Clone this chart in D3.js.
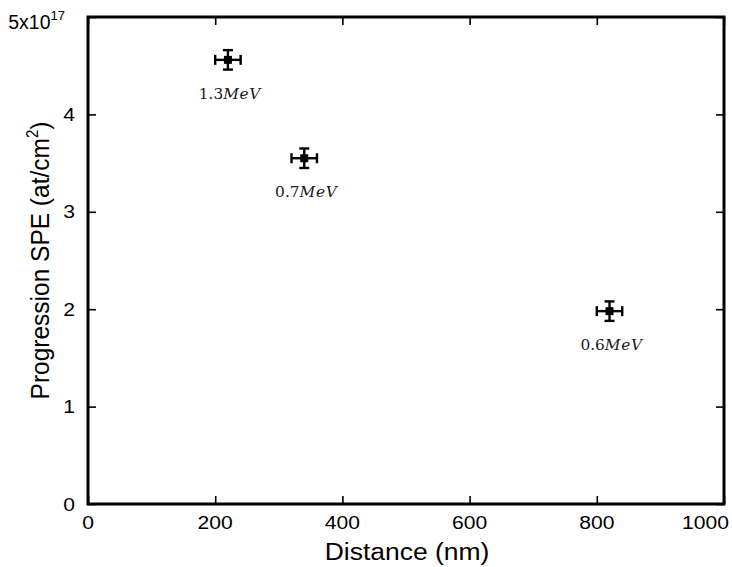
<!DOCTYPE html>
<html>
<head>
<meta charset="utf-8">
<script src="https://cdn.jsdelivr.net/npm/d3@7"></script>
<style>
  html, body { margin: 0; padding: 0; background: #fff; }
  svg { display: block; }
</style>
</head>
<body>
<svg id="chart" width="732" height="567"></svg>
<script>
// Measured SPE progression vs. distance, one point per implant energy
const energies   = ["1.3", "0.7", "0.6"];        // MeV
const distances  = [220, 340, 820];              // nm
const progression = [4.56, 3.55, 1.98];          // x10^17 at/cm^2
const distErr    = [20, 20, 20];                 // nm
const progErr    = [0.1, 0.1, 0.1];              // x10^17 at/cm^2

const xTicks = [0, 200, 400, 600, 800, 1000];
const yTicks = [0, 1, 2, 3, 4, 5];
const yTickLabels = ["0", "1", "2", "3", "4", "5x10"];
const yExponent = "17";

const W = 732, H = 567;
const margin = { left: 88, right: 8, top: 17, bottom: 63 };

const svg = d3.select("#chart");

const x = d3.scaleLinear().domain([0, 1000]).range([margin.left, W - margin.right]);
const y = d3.scaleLinear().domain([0, 5]).range([H - margin.bottom, margin.top]);

const FONT = "Liberation Sans, Arial, Helvetica, sans-serif";
const SX = 1.14;     // horizontal stretch of tick text
const SXT = 1.08;    // horizontal stretch of axis titles

// inward ticks on all four sides
function styleAxis(g) {
  g.select(".domain").remove();
  g.selectAll(".tick line").attr("stroke", "#000").attr("stroke-width", 1.6);
  g.selectAll(".tick text").remove();
}
svg.append("g").attr("transform", `translate(0,${y(0)})`)
  .call(d3.axisBottom(x).tickValues(xTicks).tickSize(-8).tickFormat("")).call(styleAxis);
svg.append("g").attr("transform", `translate(0,${y(5)})`)
  .call(d3.axisTop(x).tickValues(xTicks).tickSize(-8).tickFormat("")).call(styleAxis);
svg.append("g").attr("transform", `translate(${x(0)},0)`)
  .call(d3.axisLeft(y).tickValues(yTicks).tickSize(-8).tickFormat("")).call(styleAxis);
svg.append("g").attr("transform", `translate(${x(1000)},0)`)
  .call(d3.axisRight(y).tickValues(yTicks).tickSize(-8).tickFormat("")).call(styleAxis);

// frame
svg.append("rect")
  .attr("x", x(0)).attr("y", y(5))
  .attr("width", x(1000) - x(0)).attr("height", y(0) - y(5))
  .attr("fill", "none").attr("stroke", "#000").attr("stroke-width", 3);

// x tick labels
const xl = svg.append("g").attr("font-family", FONT).attr("font-size", 18.5).attr("fill", "#000");
xTicks.forEach(v => {
  const g = xl.append("g").attr("transform", `translate(${x(v)},${y(0) + 25}) scale(${SX},1)`);
  const t = g.append("text").attr("text-anchor", "middle").text(v);
  const w = t.node().getBBox().width * SX;
  const overflow = x(v) + w / 2 - (W - 3);
  if (overflow > 0) g.attr("transform", `translate(${x(v) - overflow},${y(0) + 25}) scale(${SX},1)`);
});

// y tick labels (top one carries the exponent)
const yl = svg.append("g").attr("font-family", FONT).attr("font-size", 18.5).attr("fill", "#000");
yTicks.forEach((v, i) => {
  const top = i === yTicks.length - 1;
  const g = yl.append("g")
    .attr("transform", top
      ? `translate(${x(0) - 23},${y(v) + 12})`
      : `translate(${x(0) - 13},${y(v) + 6.5}) scale(${SX},1)`);
  const t = g.append("text").attr("text-anchor", "end").text(yTickLabels[i]);
  if (top) {
    t.attr("font-size", 19.5);
    t.append("tspan").attr("font-size", 13).attr("dy", -9).text(yExponent);
  }
});

// axis titles
svg.append("g").attr("transform", `translate(${(x(0) + x(1000)) / 2 + 1},560) scale(${SXT},1)`)
  .append("text").attr("text-anchor", "middle")
  .attr("font-family", FONT).attr("font-size", 24.5).attr("fill", "#000")
  .text("Distance (nm)");

const yt = svg.append("g").attr("transform", `translate(49,${(y(0) + y(5)) / 2}) scale(${SXT},1) rotate(-90)`)
  .append("text").attr("text-anchor", "middle")
  .attr("font-family", FONT).attr("font-size", 24.5).attr("fill", "#000");
yt.append("tspan").text("Progression SPE (at/cm");
yt.append("tspan").attr("font-size", 15).attr("dy", -10).text("2");
yt.append("tspan").attr("dy", 10).text(")");

// data points with error bars
const pts = svg.append("g").attr("stroke", "#000").attr("stroke-width", 2.4).attr("fill", "#000");
const cap = 5;
distances.forEach((d, i) => {
  const cx = x(d), cy = y(progression[i]);
  const x0 = x(d - distErr[i]), x1 = x(d + distErr[i]);
  const y0 = y(progression[i] - progErr[i]), y1 = y(progression[i] + progErr[i]);
  const g = pts.append("g");
  g.append("line").attr("x1", x0).attr("x2", x1).attr("y1", cy).attr("y2", cy);
  g.append("line").attr("x1", x0).attr("x2", x0).attr("y1", cy - cap).attr("y2", cy + cap);
  g.append("line").attr("x1", x1).attr("x2", x1).attr("y1", cy - cap).attr("y2", cy + cap);
  g.append("line").attr("x1", cx).attr("x2", cx).attr("y1", y0).attr("y2", y1);
  g.append("line").attr("x1", cx - cap).attr("x2", cx + cap).attr("y1", y0).attr("y2", y0);
  g.append("line").attr("x1", cx - cap).attr("x2", cx + cap).attr("y1", y1).attr("y2", y1);
  g.append("rect").attr("x", cx - 4).attr("y", cy - 4).attr("width", 8).attr("height", 8)
    .attr("stroke", "none");

  // energy label below the point
  const lt = svg.append("g").attr("transform", `translate(${cx + 2},${cy + 39}) scale(1.06,1)`)
    .append("text").attr("text-anchor", "middle")
    .attr("font-family", "DejaVu Serif, Liberation Serif, serif").attr("font-size", 14.5)
    .attr("fill", "#1a1a1a");
  lt.append("tspan").text(energies[i]);
  lt.append("tspan").attr("font-style", "italic").attr("letter-spacing", 0.6).text("MeV");
});
</script>
</body>
</html>
